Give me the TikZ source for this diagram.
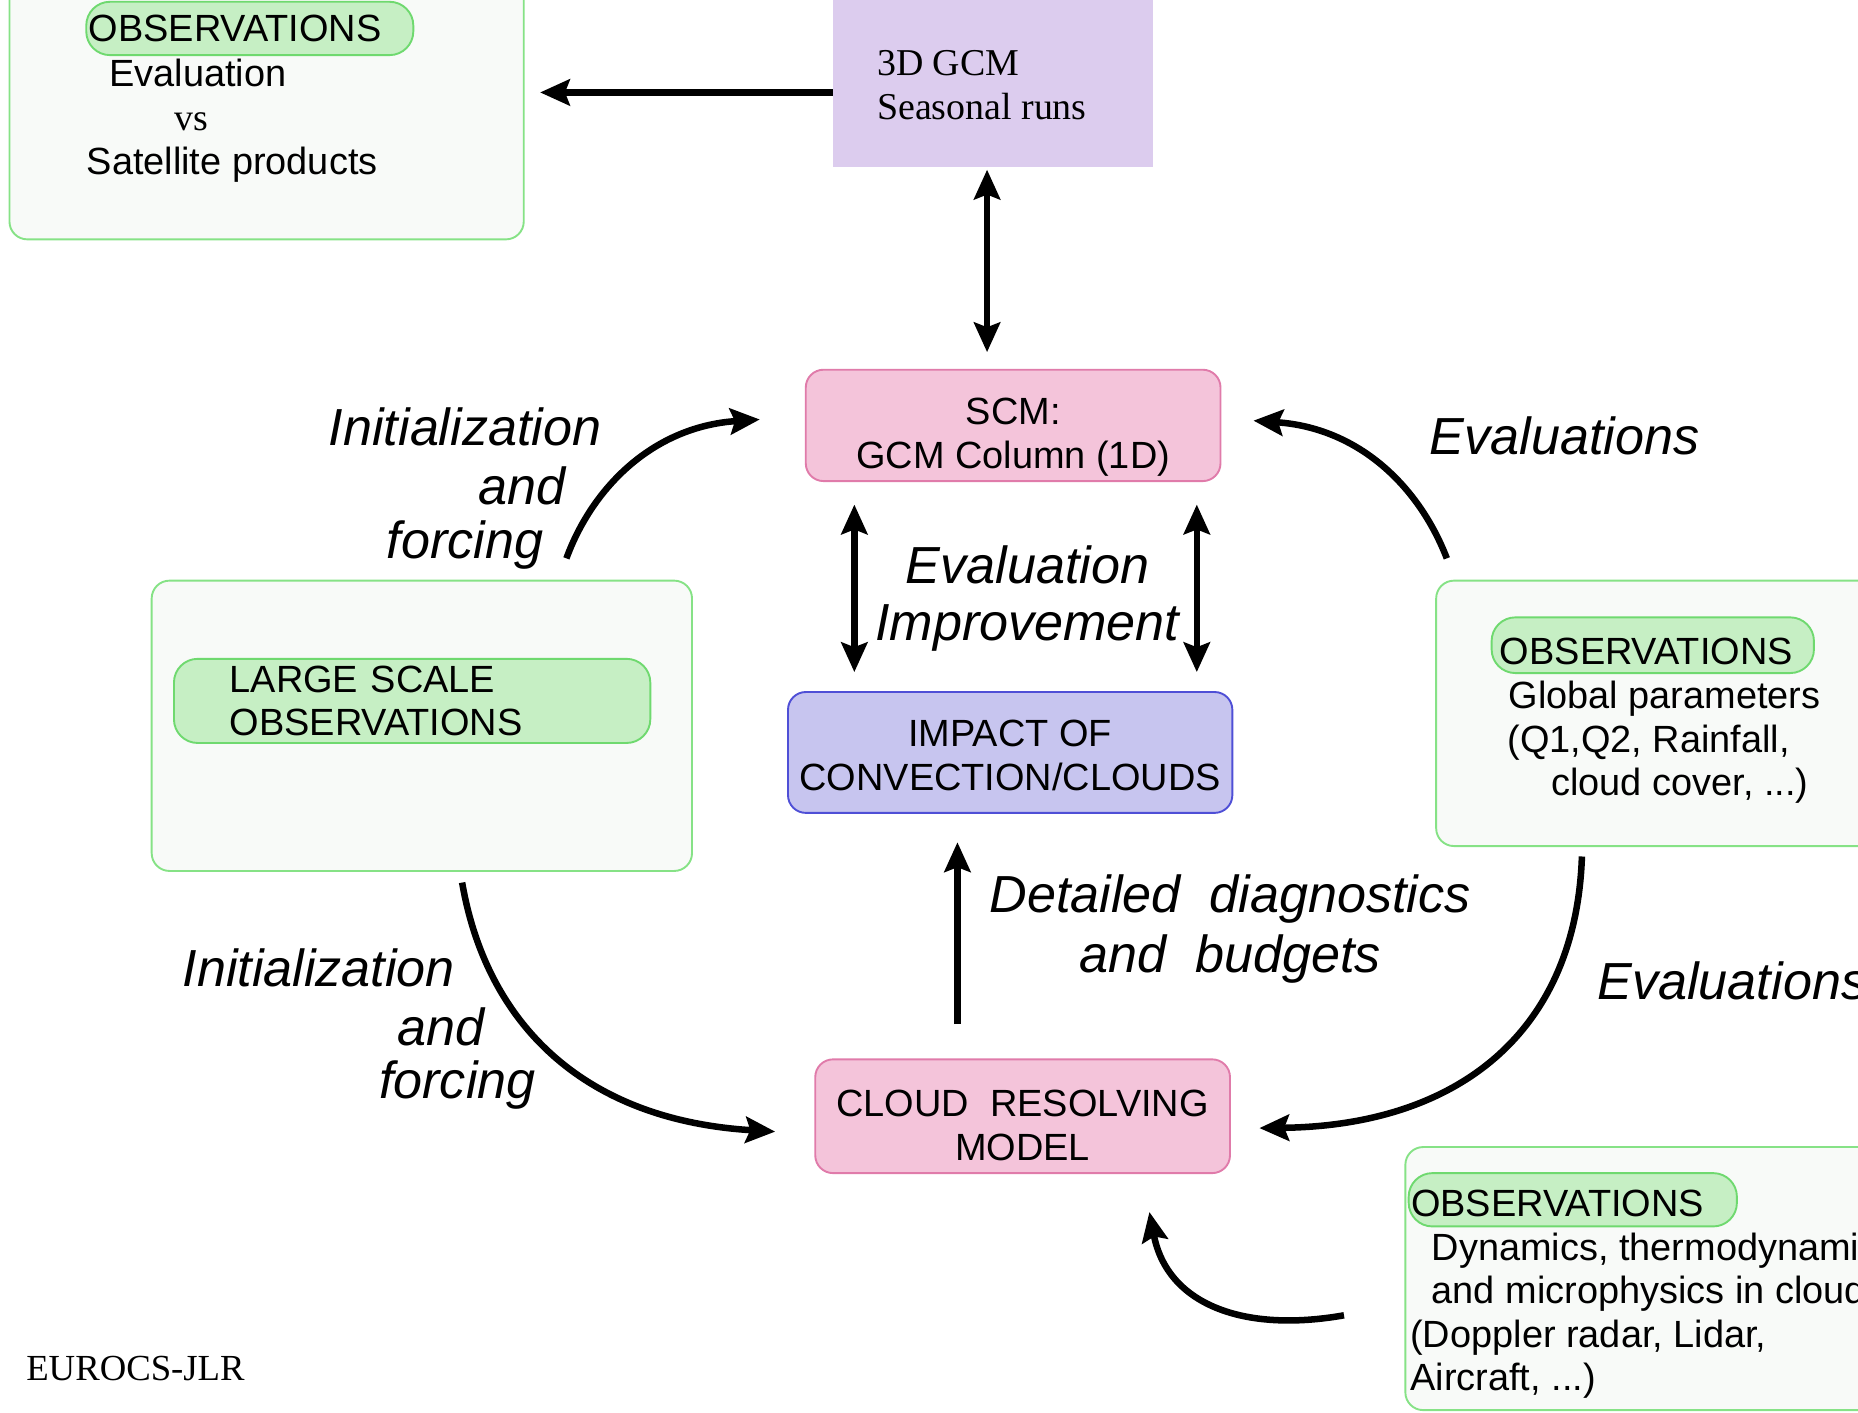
\documentclass[tikz,border=0pt]{standalone}
\usepackage{fontspec}
\setmainfont{Liberation Sans}
\newfontfamily\tnr{Liberation Serif}
\usetikzlibrary{arrows.meta,calc}
\definecolor{pinkfill}{HTML}{F4C4DA}
\definecolor{pinkline}{HTML}{E07BAA}
\definecolor{gcmfill}{HTML}{DCCCEE}
\definecolor{impfill}{HTML}{C7C5EF}
\definecolor{impline}{HTML}{4F4FD6}
\definecolor{pillfill}{HTML}{C6EFC4}
\definecolor{pillline}{HTML}{6FD96F}
\definecolor{boxline}{HTML}{86E286}
\definecolor{boxfill}{HTML}{F8FAF8}
\newcommand{\boxfont}{\fontsize{32}{37}\selectfont}
\newcommand{\labfont}{\fontsize{44}{50}\selectfont\itshape}
\begin{document}
\begin{tikzpicture}[x=1pt,y=-1pt,
  bigbox/.style={draw=boxline, line width=1.6pt, fill=boxfill, rounded corners=15pt, inner sep=0pt},
  pill/.style={draw=pillline, line width=1.6pt, fill=pillfill, rounded corners=20pt, align=left, font=\boxfont, inner ysep=0pt},
  pinkbox/.style={draw=pinkline, fill=pinkfill, line width=1.6pt, rounded corners=15pt, align=center, font=\boxfont, text depth=0pt},
  impbox/.style={draw=impline, fill=impfill, line width=1.6pt, rounded corners=15pt, align=center, font=\boxfont, text depth=0pt},
  txt/.style={font=\boxfont, align=left, inner sep=0pt, anchor=west},
  lab/.style={font=\labfont, inner sep=0pt},
  tip/.tip={Stealth[length=25pt,width=22pt,inset=4pt]},
  arr/.style={line width=5.5pt, -tip},
  darr/.style={line width=5.5pt, tip-tip}
]
\useasboundingbox (0,0) rectangle (1568,1192);

% top-left observation box
\node[bigbox, minimum width=434pt, minimum height=222pt] (obsA) at (225,91) {};
\node[pill, anchor=west, inner xsep=2pt, text width=272pt, minimum height=45pt] (obsApill) at (72,24) {OBSERVATIONS};
\node[txt] (obsAtxt) at (73,102) {\hspace*{19pt}Evaluation\\\hspace*{74pt}{\tnr vs}\\Satellite products};

% 3D GCM
\node[fill=gcmfill, minimum width=270pt, minimum height=161pt, inner sep=0pt] (gcm) at (838,60.5) {};
\node[txt, font=\tnr\fontsize{32}{37}\selectfont] (gcmtxt) at (740,71.5) {3D GCM\\Seasonal runs};

% central boxes
\node[pinkbox, minimum width=350pt, minimum height=94pt, text height=72pt] (scm) at (855,359) {SCM:\\GCM Column (1D)};
\node[impbox, minimum width=375pt, minimum height=102pt, text height=64pt] (impact) at (852.5,635) {IMPACT OF\\CONVECTION/CLOUDS};
\node[pinkbox, minimum width=350pt, minimum height=96pt, text height=74pt] (crm) at (863,942) {CLOUD\ \ RESOLVING\\MODEL};

% large scale observations
\node[bigbox, minimum width=456pt, minimum height=245pt] (lso) at (356,612.5) {};
\node[pill, anchor=west, inner xsep=47pt, text width=308pt, minimum height=71pt] (lsopill) at (146,591.5) {LARGE SCALE\\OBSERVATIONS};

% global parameters box
\node[bigbox, minimum width=388pt, minimum height=224pt] (gbox) at (1406,602) {};
\node[pill, anchor=west, inner xsep=7pt, text width=258pt, minimum height=47pt, text height=32pt, text depth=0pt] (gpill) at (1258,544.5) {OBSERVATIONS};
\node[txt] (gtxt) at (1272,626.4) {\hspace*{1pt}Global parameters\\(Q1,Q2, Rainfall,\\\hspace*{37pt}cloud cover, ...)};

% dynamics box
\node[bigbox, minimum width=414pt, minimum height=222pt] (dbox) at (1393,1079) {};
\node[pill, anchor=west, inner xsep=2pt, text width=273pt, minimum height=45pt, text height=28pt, text depth=0pt] (dpill) at (1188,1012.5) {OBSERVATIONS};
\node[txt, font=\fontsize{32}{36.7}\selectfont] (dtxt) at (1190,1110.4) {\hspace*{18pt}Dynamics, thermodynamics\\\hspace*{18pt}and microphysics in clouds\\(Doppler radar, Lidar,\\Aircraft, ...)};

% labels
\node[lab] (l1a) at (392.5,360) {Initialization};
\node[lab] (l1b) at (440.5,410) {and};
\node[lab] (l1c) at (392.5,460) {forcing};
\node[lab] (l2a) at (269,817) {Initialization};
\node[lab] (l2b) at (372.5,867) {and};
\node[lab] (l2c) at (386,916) {forcing};
\node[lab] (ev1) at (1320.5,368) {Evaluations};
\node[lab, anchor=west] (ev2) at (1348,828) {Evaluations};
\node[lab, align=center, font=\fontsize{44}{48}\selectfont\itshape] (evimp) at (867,505) {Evaluation\\Improvement};
\node[lab, align=center] (diag) at (1038,784) {Detailed\ \ diagnostics\\and\ \ budgets};
\node[anchor=west, inner sep=0pt, font=\tnr\fontsize{31}{36}\selectfont] (jlr) at (22,1155) {EUROCS-JLR};

% straight connectors
\draw[arr, shorten >=13pt] (gcm.west |- 0,78) -- (obsA.east |- 0,78);
\draw[darr, shorten <=2pt, shorten >=14pt] (gcm.south -| 833,0) -- (scm.north -| 833,0);
\draw[darr, shorten <=19pt, shorten >=16pt] (scm.south -| 721,0) -- (impact.north -| 721,0);
\draw[darr, shorten <=19pt, shorten >=16pt] (scm.south -| 1010,0) -- (impact.north -| 1010,0);
\draw[arr, shorten <=29pt, shorten >=24pt] (crm.north -| 808,0) -- (impact.south -| 808,0);

% curved connectors
\draw[arr] ($(lso.north)+(122,-18)$) .. controls +(22,-60) and +(-90,6) .. ($(scm.west)+(-38,-5)$);
\draw[arr] ($(gbox.north)+(-185,-18)$) .. controls +(-24,-62) and +(88,6) .. ($(scm.east)+(27,-4)$);
\draw[arr] ($(lso.south)+(34,9)$) .. controls +(20,116) and +(-165,-10) .. ($(crm.west)+(-33,13)$);
\draw[arr] ($(gbox.south)+(-71,8)$) .. controls +(-5,148) and +(168,-2) .. ($(crm.east)+(24,10)$);
\draw[arr] ($(dbox.west)+(-51,31)$) .. controls +(-85,15) and +(15,78) .. ($(crm.south)+(107,32)$);
\end{tikzpicture}
\end{document}
